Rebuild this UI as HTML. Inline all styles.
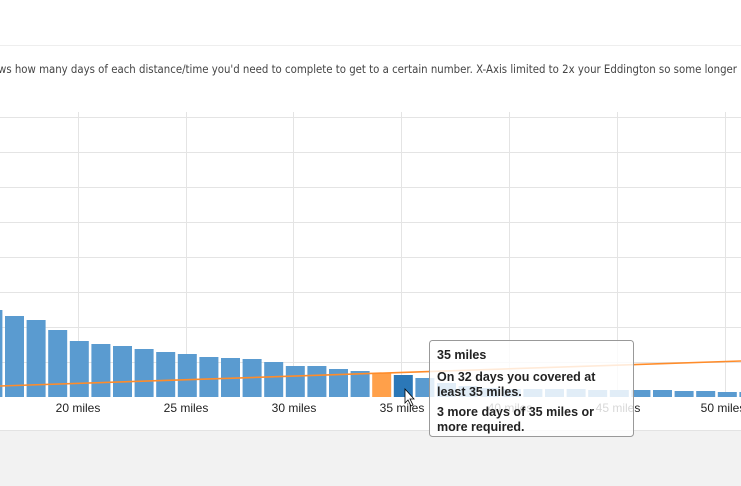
<!DOCTYPE html>
<html><head><style>
body{margin:0;width:741px;height:486px;overflow:hidden;background:#fff;font-family:"Liberation Sans",sans-serif;position:relative}
</style></head><body>
<svg width="741" height="486" style="position:absolute;left:0;top:0">
<rect x="0" y="431" width="741" height="55" fill="#f2f2f2"/>
<line x1="0" y1="430.5" x2="741" y2="430.5" stroke="#e3e3e3"/>
<line x1="0" y1="45.5" x2="741" y2="45.5" stroke="#eee"/>
<text x="-2" y="73" font-family="DejaVu Sans" font-size="11.2" fill="#444" textLength="739" lengthAdjust="spacingAndGlyphs">ws how many days of each distance/time you'd need to complete to get to a certain number. X-Axis limited to 2x your Eddington so some longer</text>
<g stroke="#e4e4e4" stroke-width="1">
<line x1="0" y1="117.5" x2="741" y2="117.5"/><line x1="0" y1="152.5" x2="741" y2="152.5"/>
<line x1="0" y1="187.5" x2="741" y2="187.5"/><line x1="0" y1="222.5" x2="741" y2="222.5"/>
<line x1="0" y1="257.5" x2="741" y2="257.5"/><line x1="0" y1="292.5" x2="741" y2="292.5"/>
<line x1="0" y1="327.5" x2="741" y2="327.5"/><line x1="0" y1="362.5" x2="741" y2="362.5"/>
<line x1="78.5" y1="112" x2="78.5" y2="397"/><line x1="186.5" y1="112" x2="186.5" y2="397"/>
<line x1="293.5" y1="112" x2="293.5" y2="397"/><line x1="401.5" y1="112" x2="401.5" y2="397"/>
<line x1="509.5" y1="112" x2="509.5" y2="397"/><line x1="617.5" y1="112" x2="617.5" y2="397"/>
<line x1="725.5" y1="112" x2="725.5" y2="397"/>
</g>
<g id="bars"></g>
<line x1="0" y1="386" x2="741" y2="361" stroke="#ff8c2a" stroke-width="1.6"/>
<g font-size="12" fill="#222" text-anchor="middle">
<text x="78" y="412">20 miles</text><text x="186" y="412">25 miles</text><text x="294" y="412">30 miles</text>
<text x="402" y="412">35 miles</text><text x="510" y="412">40 miles</text><text x="618" y="412">45 miles</text><text x="723" y="412">50 miles</text>
</g>
<rect x="429.5" y="340.5" width="204" height="96" rx="3" fill="rgba(255,255,255,0.82)" stroke="#999"/>
<g font-size="12.5" font-weight="bold" fill="#222">
<text x="437" y="359">35 miles</text>
<text x="437" y="381">On 32 days you covered at</text>
<text x="437" y="396">least 35 miles.</text>
<text x="437" y="416">3 more days of 35 miles or</text>
<text x="437" y="431">more required.</text>
</g>
<path d="M405 389 L405 403 L408 400 L411 406 L413 405 L410 399 L414 399 Z" fill="#fff" stroke="#000" stroke-width="0.8"/>
</svg>
<script>
var tops=[310,316,320,330,341,344,346,349,352,354,357,358,359,362,366,366,369,371,373,375,378,383,386,388,389,389,389,389,390,390,390,390,391,391,392,392];
var g=document.getElementById('bars'),s='';
for(var k=0;k<tops.length;k++){var i=k-1;var x=5+i*21.6;var c='#5a9bd0';if(k==18)c='#ffa04a';if(k==19)c='#2b78b8';
s+='<rect x="'+x.toFixed(1)+'" y="'+tops[k]+'" width="19" height="'+(397-tops[k])+'" fill="'+c+'"/>';}
g.innerHTML=s;
</script>
</body></html>
